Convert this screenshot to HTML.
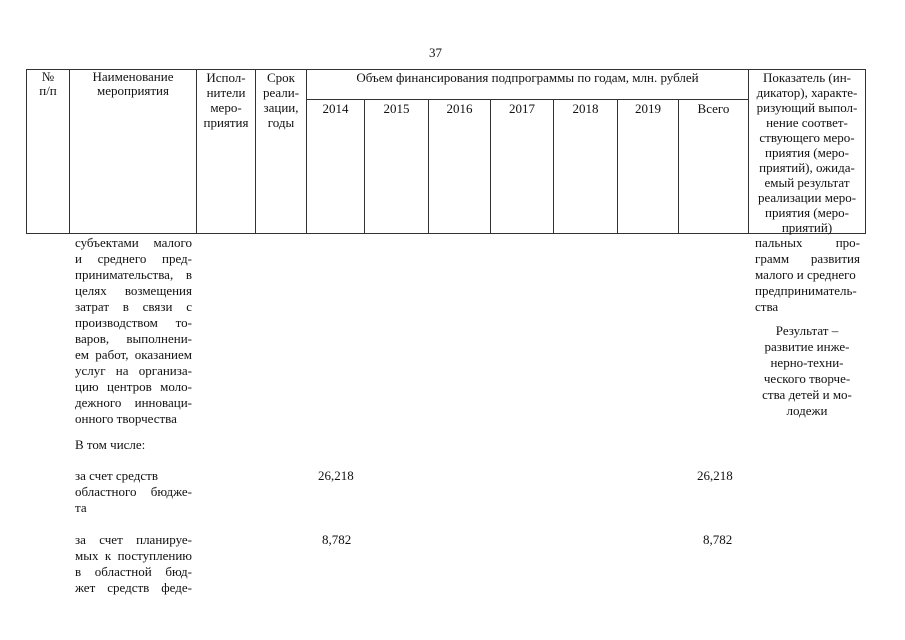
<!DOCTYPE html>
<html><head><meta charset="utf-8"><style>
body{margin:0;width:905px;height:640px;background:#fff;position:relative;overflow:hidden;font-family:"Liberation Serif",serif;font-size:13px;color:#111}
.l{position:absolute;background:#333}
.t{position:absolute;white-space:nowrap;line-height:16px}
.c{text-align:center}
.j{position:absolute;line-height:16px;text-align:justify;text-align-last:justify;white-space:nowrap}
</style></head><body>
<div class="t" style="left:429px;top:45px">37</div>
<div class="l" style="left:26px;top:69px;width:840px;height:1px"></div>
<div class="l" style="left:26px;top:233px;width:840px;height:1px"></div>
<div class="l" style="left:306px;top:99px;width:442px;height:1px"></div>
<div class="l" style="left:26px;top:69px;width:1px;height:165px"></div>
<div class="l" style="left:69px;top:69px;width:1px;height:165px"></div>
<div class="l" style="left:196px;top:69px;width:1px;height:165px"></div>
<div class="l" style="left:255px;top:69px;width:1px;height:165px"></div>
<div class="l" style="left:306px;top:69px;width:1px;height:165px"></div>
<div class="l" style="left:364px;top:99px;width:1px;height:135px"></div>
<div class="l" style="left:428px;top:99px;width:1px;height:135px"></div>
<div class="l" style="left:490px;top:99px;width:1px;height:135px"></div>
<div class="l" style="left:553px;top:99px;width:1px;height:135px"></div>
<div class="l" style="left:617px;top:99px;width:1px;height:135px"></div>
<div class="l" style="left:678px;top:99px;width:1px;height:135px"></div>
<div class="l" style="left:748px;top:69px;width:1px;height:165px"></div>
<div class="l" style="left:865px;top:69px;width:1px;height:165px"></div>
<div class="t c" style="left:27px;top:70px;width:42px;line-height:14px">№<br>п/п</div>
<div class="t c" style="left:70px;top:70px;width:126px;line-height:14px">Наименование<br>мероприятия</div>
<div class="t c" style="left:197px;top:70px;width:58px;line-height:15px">Испол-<br>нители<br>меро-<br>приятия</div>
<div class="t c" style="left:256px;top:70px;width:50px;line-height:15px">Срок<br>реали-<br>зации,<br>годы</div>
<div class="t c" style="left:307px;top:70px;width:441px">Объем финансирования подпрограммы по годам, млн. рублей</div>
<div class="t c" style="left:307px;top:101px;width:57px">2014</div>
<div class="t c" style="left:365px;top:101px;width:63px">2015</div>
<div class="t c" style="left:429px;top:101px;width:61px">2016</div>
<div class="t c" style="left:491px;top:101px;width:62px">2017</div>
<div class="t c" style="left:554px;top:101px;width:63px">2018</div>
<div class="t c" style="left:618px;top:101px;width:60px">2019</div>
<div class="t c" style="left:679px;top:101px;width:69px">Всего</div>
<div class="t c" style="left:749px;top:70px;width:116px;line-height:15px">Показатель (ин-<br>дикатор), характе-<br>ризующий выпол-<br>нение соответ-<br>ствующего меро-<br>приятия (меро-<br>приятий), ожида-<br>емый результат<br>реализации меро-<br>приятия (меро-<br>приятий)</div>
<div class="j" style="left:75px;top:235px;width:117px">субъектами малого</div>
<div class="j" style="left:75px;top:251px;width:117px">и среднего пред-</div>
<div class="j" style="left:75px;top:267px;width:117px">принимательства, в</div>
<div class="j" style="left:75px;top:283px;width:117px">целях возмещения</div>
<div class="j" style="left:75px;top:299px;width:117px">затрат в связи с</div>
<div class="j" style="left:75px;top:315px;width:117px">производством то-</div>
<div class="j" style="left:75px;top:331px;width:117px">варов, выполнени-</div>
<div class="j" style="left:75px;top:347px;width:117px">ем работ, оказанием</div>
<div class="j" style="left:75px;top:363px;width:117px">услуг на организа-</div>
<div class="j" style="left:75px;top:379px;width:117px">цию центров моло-</div>
<div class="j" style="left:75px;top:395px;width:117px">дежного инноваци-</div>
<div class="t" style="left:75px;top:411px">онного творчества</div>
<div class="t" style="left:75px;top:437px">В том числе:</div>
<div class="t" style="left:75px;top:468px">за счет средств</div>
<div class="j" style="left:75px;top:484px;width:117px">областного бюдже-</div>
<div class="t" style="left:75px;top:500px">та</div>
<div class="j" style="left:75px;top:532px;width:117px">за счет планируе-</div>
<div class="j" style="left:75px;top:548px;width:117px">мых к поступлению</div>
<div class="j" style="left:75px;top:564px;width:117px">в областной бюд-</div>
<div class="j" style="left:75px;top:580px;width:117px">жет средств феде-</div>
<div class="t" style="left:318px;top:468px">26,218</div>
<div class="t" style="left:697px;top:468px">26,218</div>
<div class="t" style="left:322px;top:532px">8,782</div>
<div class="t" style="left:703px;top:532px">8,782</div>
<div class="j" style="left:755px;top:235px;width:105px">пальных про-</div>
<div class="j" style="left:755px;top:251px;width:105px">грамм развития</div>
<div class="t" style="left:755px;top:267px">малого и среднего</div>
<div class="t" style="left:755px;top:283px">предприниматель-</div>
<div class="t" style="left:755px;top:299px">ства</div>
<div class="t c" style="left:749px;top:323px;width:116px;line-height:16px">Результат –<br>развитие инже-<br>нерно-техни-<br>ческого творче-<br>ства детей и мо-<br>лодежи</div>
</body></html>
